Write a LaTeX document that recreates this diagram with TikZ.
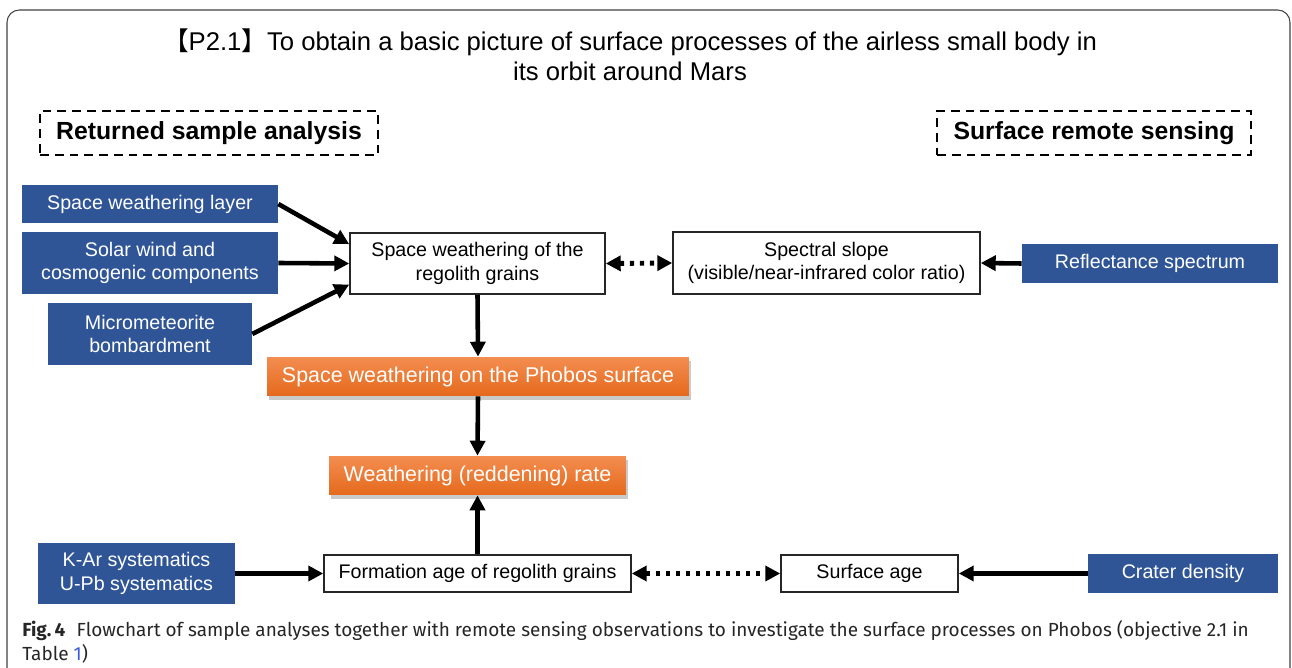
\documentclass[tikz,border=0pt]{standalone}
\usepackage{fontspec}
\setmainfont{Liberation Sans}
\newfontfamily\cjk{Noto Sans CJK SC}
\newfontfamily\capfont{Fira Sans}
\usepackage{tikz}
\usetikzlibrary{arrows.meta,shadows}

\definecolor{boxblue}{HTML}{2F5597}
\definecolor{orangetop}{HTML}{F38D50}
\definecolor{orangebot}{HTML}{E5691C}
\definecolor{linkblue}{HTML}{3B5BDB}

\tikzset{
  bluebox/.style={fill=boxblue, text=white, inner sep=0pt, align=center,
    font=\fontsize{11.2}{13.4}\selectfont},
  whitebox/.style={draw=black!85, line width=0.9pt, fill=white, inner sep=0pt,
    align=center, font=\fontsize{11.2}{13.4}\selectfont},
  orangebox/.style={top color=orangetop, bottom color=orangebot, text=white,
    inner sep=0pt, font=\fontsize{12.2}{14.6}\selectfont,
    drop shadow={shadow xshift=1pt, shadow yshift=-2pt, fill=black!60, opacity=0.35}},
  headbox/.style={draw, line width=1.4pt, dash pattern=on 5pt off 3.4pt,
    inner sep=0pt, font=\bfseries\fontsize{14.1}{17}\selectfont},
  arr/.style={-{Triangle[length=8.5pt,width=8.5pt]}, line width=2.6pt},
  dotarr/.style={{Triangle[length=8.5pt,width=8.5pt]}-{Triangle[length=8.5pt,width=8.5pt]},
    line width=2.8pt, dash pattern=on 2.5pt off 3.2pt},
}

\begin{document}
\begin{tikzpicture}[x=0.02cm,y=-0.02cm]
        \useasboundingbox (0,0) rectangle (1292,668);
        \draw[black!75, line width=0.6pt, rounded corners=7pt]
        (7,668) -- (7,10) -- (1290,10) -- (1290,668);

        % title and the two headings
        \node[align=center, font=\fontsize{14.6}{17}\selectfont] (title) at (630,55)
        {{\cjk 【}P2.1{\cjk 】}To obtain a basic picture of surface processes of the airless small body in\\its orbit around Mars};
        \node[headbox, minimum width=6.76cm, minimum height=0.88cm] (retlabel) at (209,133) {Returned sample analysis};
        \node[headbox, minimum width=6.28cm, minimum height=0.88cm] (remlabel) at (1094,133) {Surface remote sensing};

        % upper row
        \node[bluebox, minimum width=5.12cm, minimum height=0.76cm] (layer) at (150,204) {Space weathering layer};
        \node[bluebox, minimum width=5.12cm, minimum height=1.24cm] (wind) at (150,263) {Solar wind and\\cosmogenic components};
        \node[bluebox, minimum width=4.08cm, minimum height=1.24cm] (micro) at (150,334) {Micrometeorite\\bombardment};
        \node[whitebox, minimum width=5.10cm, minimum height=1.22cm] (grains) at (477.5,263.5) {Space weathering of the\\regolith grains};
        \node[whitebox, minimum width=6.14cm, minimum height=1.24cm] (slope) at (826.5,263) {Spectral slope\\(visible/near-infrared color ratio)};
        \node[bluebox, minimum width=5.12cm, minimum height=0.78cm] (reflect) at (1150,263.5) {Reflectance spectrum};

        % middle
        \node[orangebox, minimum width=8.44cm, minimum height=0.78cm] (phobos) at (478,376.5) {Space weathering on the Phobos surface};
        \node[orangebox, minimum width=5.94cm, minimum height=0.78cm] (rate) at (477.5,475.5) {Weathering (reddening) rate};

        % lower row
        \node[bluebox, minimum width=3.94cm, minimum height=1.22cm] (kar) at (136.5,573.5) {K-Ar systematics\\U-Pb systematics};
        \node[whitebox, minimum width=6.14cm, minimum height=0.74cm] (formation) at (477.5,573.5) {Formation age of regolith grains};
        \node[whitebox, minimum width=3.54cm, minimum height=0.74cm] (surface) at (869.5,573.5) {Surface age};
        \node[bluebox, minimum width=3.80cm, minimum height=0.78cm] (crater) at (1183,573.5) {Crater density};

        \draw[arr] (layer.east) -- ([yshift=11pt]grains.west);
        \draw[arr] (wind.east) -- (grains.west);
        \draw[arr] (micro.east) -- ([yshift=-12pt]grains.west);
        \draw[arr] (grains.south) -- (phobos.north);
        \draw[arr] (phobos.south) -- (rate.north);
        \draw[arr] (formation.north) -- (rate.south);
        \draw[arr] (kar.east) -- (formation.west);
        \draw[arr] (reflect.west) -- (slope.east);
        \draw[arr] (crater.west) -- (surface.east);
        \draw[dotarr] (grains.east) -- (slope.west);
        \draw[dotarr] (formation.east) -- (surface.west);

        % caption
        \node[anchor=north west, align=left, inner sep=0pt, text=black!85,
        font=\capfont\fontsize{10.8}{13.66}\selectfont] (caption) at (22,620)
        {\textbf{Fig.\,4}\hspace{0.6em}Flowchart of sample analyses together with remote sensing observations to investigate the surface processes on Phobos (objective 2.1 in\\Table {\color{linkblue}1})};
\end{tikzpicture}
\end{document}
